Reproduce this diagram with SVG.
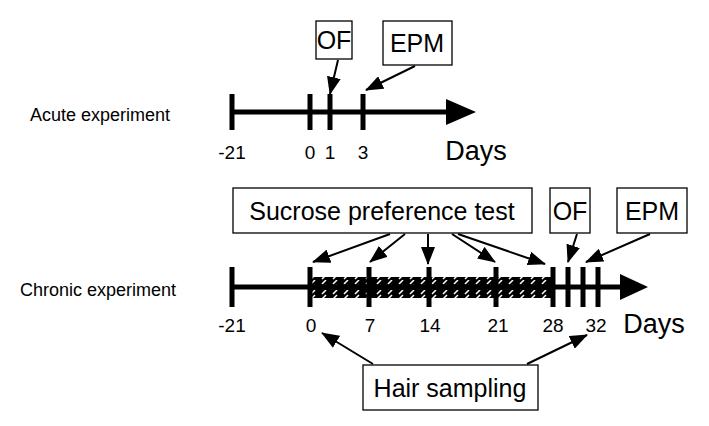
<svg xmlns="http://www.w3.org/2000/svg" width="709" height="426" viewBox="0 0 709 426">
<style>
text{font-family:"Liberation Sans",Arial,sans-serif;fill:#000}
.n{font-size:19px;text-anchor:middle}
.b{font-size:25px;text-anchor:middle}
.box{fill:#fff;stroke:#000;stroke-width:1.3}
.ax{stroke:#000;stroke-width:5;fill:none}
.tk{stroke:#000;stroke-width:5}
.ar{stroke:#000;stroke-width:2;fill:none;marker-end:url(#h)}
</style>
<defs>
<marker id="h" viewBox="0 0 18 14" refX="17" refY="7" markerWidth="18" markerHeight="14" markerUnits="userSpaceOnUse" orient="auto">
<path d="M0,0L18,7L0,14z" fill="#000"/>
</marker>
<pattern id="hat" width="11" height="10" patternUnits="userSpaceOnUse">
<rect width="11" height="10" fill="#000"/>
<path d="M3,4L7,0M3,9L7,5" stroke="#fff" stroke-width="1.5"/>
</pattern>
</defs>
<g id="acute">
<text x="30" y="121" style="font-size:18px">Acute experiment</text>
<line class="ax" x1="232" y1="112" x2="448" y2="112"/>
<path d="M446,99L476,112L446,125z"/>
<line class="tk" x1="232" y1="94" x2="232" y2="130"/>
<line class="tk" x1="310" y1="94" x2="310" y2="130"/>
<line class="tk" x1="330" y1="94" x2="330" y2="130"/>
<line class="tk" x1="363" y1="94" x2="363" y2="130"/>
<text class="n" x="232" y="159">-21</text>
<text class="n" x="310" y="159">0</text>
<text class="n" x="330" y="159">1</text>
<text class="n" x="363" y="159">3</text>
<text class="b" x="476" y="160" style="font-size:27px">Days</text>
</g>
<g id="of1"><rect class="box" x="316" y="21" width="36" height="38"/><text class="b" x="334" y="49">OF</text></g>
<g id="epm1"><rect class="box" x="383" y="21" width="69" height="44"/><text class="b" x="417" y="52">EPM</text></g>
<g id="chronic">
<text x="20" y="296" style="font-size:18px">Chronic experiment</text>
<rect x="312" y="277" width="241" height="21" fill="url(#hat)"/>
<line class="ax" x1="232" y1="287" x2="622" y2="287"/>
<path d="M620,274L648,287L620,300z"/>
<line class="tk" x1="232" y1="267" x2="232" y2="307"/>
<line class="tk" x1="310" y1="267" x2="310" y2="307"/>
<line class="tk" x1="369" y1="267" x2="369" y2="307"/>
<line class="tk" x1="429" y1="267" x2="429" y2="307"/>
<line class="tk" x1="496" y1="267" x2="496" y2="307"/>
<line class="tk" x1="553" y1="267" x2="553" y2="307"/>
<line class="tk" x1="568" y1="267" x2="568" y2="307"/>
<line class="tk" x1="583" y1="267" x2="583" y2="307"/>
<line class="tk" x1="598" y1="267" x2="598" y2="307"/>
<text class="n" x="232" y="332">-21</text>
<text class="n" x="311" y="332">0</text>
<text class="n" x="370" y="332">7</text>
<text class="n" x="430" y="332">14</text>
<text class="n" x="498" y="332">21</text>
<text class="n" x="553" y="332">28</text>
<text class="n" x="596" y="332">32</text>
<text class="b" x="654" y="333" style="font-size:27px">Days</text>
</g>
<g id="sucrose"><rect class="box" x="233" y="188" width="299" height="45"/><text class="b" x="382" y="220">Sucrose preference test</text></g>
<g id="of2"><rect class="box" x="550" y="188" width="40" height="45"/><text class="b" x="570" y="220">OF</text></g>
<g id="epm2"><rect class="box" x="617" y="188" width="70" height="45"/><text class="b" x="652" y="220">EPM</text></g>
<g id="hair"><rect class="box" x="363" y="365" width="175" height="45"/><text class="b" x="450" y="397">Hair sampling</text></g>
<g id="connectors">
<line class="ar" x1="338" y1="60" x2="330" y2="94"/>
<line class="ar" x1="415" y1="66" x2="366" y2="90"/>
<line class="ar" x1="390" y1="234" x2="313" y2="262"/>
<line class="ar" x1="405" y1="234" x2="370" y2="262"/>
<line class="ar" x1="428" y1="234" x2="428" y2="264"/>
<line class="ar" x1="452" y1="234" x2="495" y2="262"/>
<line class="ar" x1="458" y1="234" x2="545" y2="264"/>
<line class="ar" x1="577" y1="234" x2="568" y2="262"/>
<line class="ar" x1="650" y1="234" x2="586" y2="262"/>
<line class="ar" x1="373" y1="364" x2="322" y2="333"/>
<line class="ar" x1="527" y1="364" x2="587" y2="335"/>
</g>
</svg>
